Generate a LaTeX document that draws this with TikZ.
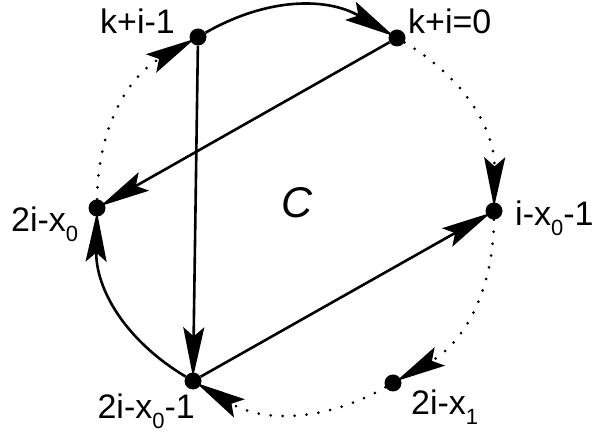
\documentclass[tikz,border=0pt]{standalone}
\usepackage{fontspec}
\setmainfont{Liberation Sans}
\usetikzlibrary{arrows.meta}
\newcommand\lsub[1]{\raisebox{-10pt}{\fontsize{22}{22}\selectfont #1}}
\begin{document}
\begin{tikzpicture}[x=1pt,y=1pt,
  dot/.style={circle,fill=black,inner sep=0pt,minimum size=17pt},
  lbl/.style={inner sep=0pt,font=\fontsize{34}{40}\selectfont},
  edge/.style={line width=2.6pt,shorten >=-5pt,-{Stealth[length=50pt,width=21pt,inset=9pt]}},
  dotted edge/.style={edge,line width=3pt,line cap=round,dash pattern=on 0pt off 12pt}]
\useasboundingbox (0,0) rectangle (595,433);
\node[dot] (A) at (198,396) {};
\node[dot] (B) at (397,395) {};
\node[dot] (C) at (494,222) {};
\node[dot] (D) at (393,50) {};
\node[dot] (E) at (193,52) {};
\node[dot] (F) at (97,225) {};
\node[lbl,anchor=base east] (lA) at (175,399) {k+i-1};
\node[lbl,anchor=base west] (lB) at (408,399) {k+i=0};
\node[lbl,anchor=base west] (lC) at (515,207) {i-x\lsub{0}-1};
\node[lbl,anchor=base west] (lF) at (11,201) {2i-x\lsub{0}};
\node[lbl,anchor=base east] (lE) at (195,14) {2i-x\lsub{0}-1};
\node[lbl,anchor=base west] (lD) at (411,18) {2i-x\lsub{1}};
\node[inner sep=0pt,font=\fontsize{43}{50}\selectfont\itshape] (lab) at (297,230) {C};
\draw[edge] (A) to[bend left=30] (B);
\draw[edge] (E) to[bend left=30] (F);
\draw[dotted edge] (B) to[bend left=30] (C);
\draw[dotted edge] (C) to[bend left=30] (D);
\draw[dotted edge] (D) to[bend left=30] (E);
\draw[dotted edge] (F) to[bend left=30] (A);
\draw[edge] (A) -- (E);
\draw[edge] (B) -- (F);
\draw[edge] (E) -- (C);
\end{tikzpicture}
\end{document}
